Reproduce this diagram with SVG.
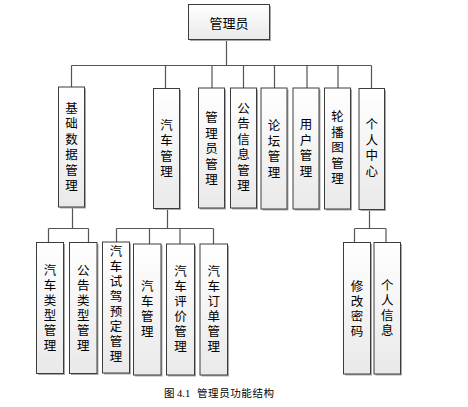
<svg xmlns="http://www.w3.org/2000/svg" width="468" height="407" viewBox="0 0 468 407">
<defs>
<linearGradient id="g" x1="0" y1="0" x2="0" y2="1">
<stop offset="0" stop-color="#ffffff"/>
<stop offset="1" stop-color="#e9e9e9"/>
</linearGradient>
</defs>
<style>
.box{fill:url(#g);stroke:#3c3c3c;stroke-width:1}
.sh{fill:#a8a8a8}
.t{font-family:"Noto Sans CJK SC","Liberation Sans",sans-serif;font-size:12.5px;fill:#000;text-anchor:middle;dominant-baseline:central}
.v{writing-mode:vertical-rl;text-orientation:upright;letter-spacing:3px}
.v3{writing-mode:vertical-rl;text-orientation:upright;letter-spacing:2.5px}
.tr{font-size:13px}
.c{fill:none;stroke:#555;stroke-width:1.2}
.cap{font-family:"Liberation Serif","Noto Sans CJK SC",serif;font-size:10.5px;fill:#000}
</style>
<rect width="468" height="407" fill="#fff"/>
<g id="connectors">
<path class="c" d="M226.5 39V65.5M71.5 65.5H371.5M71.5 65.5V87M165.5 65.5V88.5M212 65.5V88M243.5 65.5V88M274.5 65.5V88M307 65.5V88M338 65.5V88M371.5 65.5V88.5"/>
<path class="c" d="M72.5 207V228.5M48.5 228.5H88.5M48.5 228.5V242.5M88.5 228.5V242.5"/>
<path class="c" d="M167.5 208.5V228.5M116.5 228.5H213.5M116.5 228.5V242M149.5 228.5V244M180 228.5V244M213.5 228.5V244"/>
<path class="c" d="M369.5 209.5V228.5M354.5 228.5H386M354.5 228.5V242.5M386 228.5V242.5"/>
</g>
<g id="root">
<rect class="sh" x="190" y="6" width="81" height="35"/>
<rect class="box" x="188.5" y="4.5" width="81" height="35"/>
<text class="t tr" x="229" y="22">管理员</text>
</g>
<g id="n1">
<rect class="sh" x="60" y="88.5" width="26" height="120"/>
<rect class="box" x="58.5" y="87" width="26" height="120"/>
<text class="t v" x="71.5" y="148">基础数据管理</text>
</g>
<g id="n2">
<rect class="sh" x="155" y="90" width="26" height="120"/>
<rect class="box" x="153.5" y="88.5" width="26" height="120"/>
<text class="t v" x="166.5" y="149.5">汽车管理</text>
</g>
<g id="n3">
<rect class="sh" x="200" y="89.5" width="26" height="120"/>
<rect class="box" x="198.5" y="88" width="26" height="120"/>
<text class="t v" x="211.5" y="149.8">管理员管理</text>
</g>
<g id="n4">
<rect class="sh" x="232" y="89.5" width="26" height="120"/>
<rect class="box" x="230.5" y="88" width="26" height="120"/>
<text class="t v" x="243.5" y="148.2">公告信息管理</text>
</g>
<g id="n5">
<rect class="sh" x="262.5" y="89.5" width="26" height="121"/>
<rect class="box" x="261" y="88" width="26" height="121"/>
<text class="t v" x="274" y="150.3">论坛管理</text>
</g>
<g id="n6">
<rect class="sh" x="294.5" y="89.5" width="26" height="121"/>
<rect class="box" x="293" y="88" width="26" height="121"/>
<text class="t v" x="306" y="149">用户管理</text>
</g>
<g id="n7">
<rect class="sh" x="326" y="89.5" width="26" height="121"/>
<rect class="box" x="324.5" y="88" width="26" height="121"/>
<text class="t v" x="337.5" y="149">轮播图管理</text>
</g>
<g id="n8">
<rect class="sh" x="360.5" y="90" width="25.5" height="121"/>
<rect class="box" x="359" y="88.5" width="25.5" height="121"/>
<text class="t v" x="371.75" y="149.2">个人中心</text>
</g>
<g id="m1">
<rect class="sh" x="38" y="244" width="27" height="131"/>
<rect class="box" x="36.5" y="242.5" width="27" height="131"/>
<text class="t v3" x="50" y="309.25">汽车类型管理</text>
</g>
<g id="m2">
<rect class="sh" x="71" y="244" width="27.5" height="131"/>
<rect class="box" x="69.5" y="242.5" width="27.5" height="131"/>
<text class="t v3" x="83.25" y="309.25">公告类型管理</text>
</g>
<g id="m3">
<rect class="sh" x="104" y="243.5" width="27" height="131"/>
<rect class="box" x="102.5" y="242" width="27" height="131"/>
<text class="t v3" x="116" y="305.45">汽车试驾预定管理</text>
</g>
<g id="m4">
<rect class="sh" x="135" y="245.5" width="27.5" height="131"/>
<rect class="box" x="133.5" y="244" width="27.5" height="131"/>
<text class="t v3" x="147.25" y="310.25">汽车管理</text>
</g>
<g id="m5">
<rect class="sh" x="168" y="245.5" width="28" height="131"/>
<rect class="box" x="166.5" y="244" width="28" height="131"/>
<text class="t v3" x="180.5" y="309.75">汽车评价管理</text>
</g>
<g id="m6">
<rect class="sh" x="201.5" y="245.5" width="27.5" height="131"/>
<rect class="box" x="200" y="244" width="27.5" height="131"/>
<text class="t v3" x="213.75" y="309.75">汽车订单管理</text>
</g>
<g id="m7">
<rect class="sh" x="345" y="244" width="27" height="131.5"/>
<rect class="box" x="343.5" y="242.5" width="27" height="131.5"/>
<text class="t v3" x="357" y="309.75">修改密码</text>
</g>
<g id="m8">
<rect class="sh" x="375.5" y="244" width="26.5" height="131.5"/>
<rect class="box" x="374" y="242.5" width="26.5" height="131.5"/>
<text class="t v3" x="387.25" y="309.25">个人信息</text>
</g>
<g id="caption">
<text class="cap" y="397"><tspan x="164">图</tspan><tspan x="177">4.1</tspan><tspan x="197" textLength="77" lengthAdjust="spacing">管理员功能结构</tspan></text>
</g>
</svg>
